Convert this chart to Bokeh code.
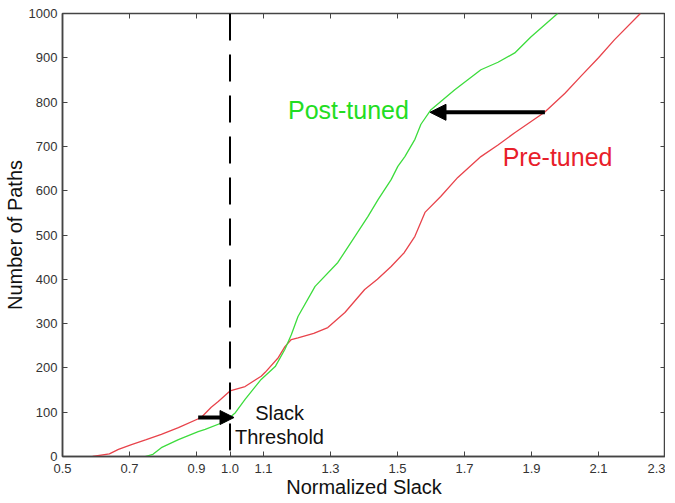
from bokeh.plotting import figure
from bokeh.models import (LinearAxis, FixedTicker, Span, Arrow, NormalHead, Label, Range1d,
                          PrintfTickFormatter)
from bokeh.embed import file_html
from bokeh.resources import INLINE

# Pre-tuned curve (normalized slack, number of paths)
pre_x = [0.59, 0.64, 0.667, 0.706, 0.75, 0.795, 0.846, 0.914, 0.944, 0.965, 1.0, 1.045, 1.093, 1.105,
         1.144, 1.164, 1.183, 1.203, 1.25, 1.292, 1.343, 1.402, 1.44, 1.481, 1.52, 1.552, 1.582, 1.629,
         1.68, 1.749, 1.8, 1.85, 1.939, 2.0, 2.047, 2.1, 2.148, 2.225]
pre_y = [0, 6, 16, 27, 38, 50, 65, 88, 111, 124, 148, 158, 181, 190,
         223, 248, 264, 268, 278, 291, 325, 377, 400, 429, 460, 497, 551, 587,
         630, 677, 703, 731, 777, 820, 858, 900, 941, 1000]

# Post-tuned curve
post_x = [0.747, 0.77, 0.795, 0.846, 0.905, 0.926, 0.986, 1.016, 1.045, 1.093, 1.135,
          1.164, 1.183, 1.203, 1.254, 1.322, 1.373, 1.412, 1.442, 1.481, 1.501, 1.522, 1.552,
          1.57, 1.6, 1.671, 1.749, 1.8, 1.85, 1.898, 1.978]
post_y = [0, 5, 20, 38, 56, 61, 79, 99, 129, 174, 203,
          242, 275, 316, 384, 438, 497, 542, 580, 625, 655, 677, 716,
          750, 783, 828, 873, 890, 911, 947, 1000]

x_ticks = [0.5, 0.7, 0.9, 1.0, 1.1, 1.3, 1.5, 1.7, 1.9, 2.1, 2.3]
y_ticks = [0, 100, 200, 300, 400, 500, 600, 700, 800, 900, 1000]
threshold = 1.0

# Annotation values
big_arrow = dict(x_start=1.94, x_end=1.597, y=777)
small_arrow = dict(x_start=0.905, x_end=1.012, y=88)

FONT = "Liberation Sans"
AXIS_COLOR = "#444444"

p = figure(frame_width=603, frame_height=443,
           x_range=Range1d(0.5, 2.3), y_range=Range1d(0, 1000),
           output_backend="svg", toolbar_location=None,
           min_border_left=57, min_border_top=13, min_border_right=0, min_border_bottom=30)

p.xgrid.visible = False
p.ygrid.visible = False
p.outline_line_color = AXIS_COLOR
p.outline_line_width = 1.5

for ax, ticks in ((p.xaxis[0], x_ticks), (p.yaxis[0], y_ticks)):
    ax.ticker = FixedTicker(ticks=ticks)
    ax.major_tick_in = 5
    ax.major_tick_out = 0
    ax.minor_tick_line_color = None
    ax.axis_line_color = AXIS_COLOR
    ax.axis_line_width = 1.5
    ax.major_tick_line_color = AXIS_COLOR
    ax.major_label_text_font = FONT
    ax.major_label_text_font_size = "13px"
    ax.major_label_text_color = "#333333"
    ax.axis_label_text_font = FONT
    ax.axis_label_text_font_size = "20px"
    ax.axis_label_text_font_style = "normal"
    ax.axis_label_text_color = "#111111"

p.xaxis[0].formatter = PrintfTickFormatter(format="%.1f")
p.xaxis[0].axis_label = "Normalized Slack"
p.yaxis[0].axis_label = "Number of Paths"
p.xaxis[0].major_label_standoff = 7
p.xaxis[0].axis_label_standoff = 0
p.yaxis[0].major_label_standoff = 5
p.yaxis[0].axis_label_standoff = 0

for side, ticks in (("above", x_ticks), ("right", y_ticks)):
    ax = LinearAxis(ticker=FixedTicker(ticks=ticks), major_label_text_font_size="1px",
                    major_label_text_color=None,
                    major_tick_in=5, major_tick_out=0, minor_tick_line_color=None,
                    axis_line_color=None, major_tick_line_color=AXIS_COLOR,
                    major_label_standoff=0)
    p.add_layout(ax, side)

p.line(pre_x, pre_y, line_color="#e8434b", line_width=1.3)
p.line(post_x, post_y, line_color="#3ddc3d", line_width=1.3)

p.add_layout(Span(location=threshold, dimension="height", line_color="black",
                  line_width=2, line_dash="27 14"))

p.add_layout(Arrow(end=NormalHead(size=16, fill_color="black", line_color="black"),
                   x_start=big_arrow["x_start"], y_start=big_arrow["y"],
                   x_end=big_arrow["x_end"], y_end=big_arrow["y"],
                   line_width=4, line_color="black"))
p.add_layout(Arrow(end=NormalHead(size=14, fill_color="black", line_color="black"),
                   x_start=small_arrow["x_start"], y_start=small_arrow["y"],
                   x_end=small_arrow["x_end"], y_end=small_arrow["y"],
                   line_width=4, line_color="black"))

p.add_layout(Label(x=1.173, y=783, text="Post-tuned", text_color="#22dd22",
                   text_font=FONT, text_font_size="25px", text_baseline="middle"))
p.add_layout(Label(x=1.814, y=675, text="Pre-tuned", text_color="#e8202a",
                   text_font=FONT, text_font_size="25px", text_baseline="middle"))
p.add_layout(Label(x=1.075, y=99, text="Slack", text_color="#111111",
                   text_font=FONT, text_font_size="20px", text_baseline="middle"))
p.add_layout(Label(x=1.015, y=45, text="Threshold", text_color="#111111",
                   text_font=FONT, text_font_size="20px", text_baseline="middle"))

open("out.html", "w").write(file_html(p, INLINE))
